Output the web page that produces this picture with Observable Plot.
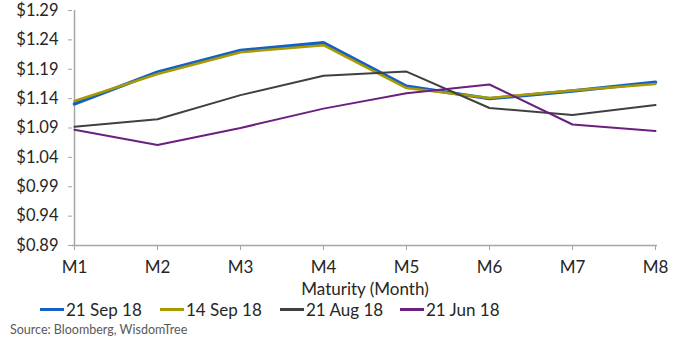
<!DOCTYPE html>
<html>
<head>
<meta charset="utf-8">
<script src="https://cdn.jsdelivr.net/npm/d3@7"></script>
<script src="https://cdn.jsdelivr.net/npm/@observablehq/plot@0.6"></script>
<style>
  html, body { margin: 0; padding: 0; background: #fff; }
  body { width: 689px; height: 340px; overflow: hidden; font-family: Lato, "Open Sans", sans-serif; color: #262626; }
  #chart svg { display: block; overflow: visible; }
  .legend { position: absolute; top: 298px; left: 0; height: 22px; width: 689px; font-size: 17px; }
  .legend .item { position: absolute; top: 0; display: flex; align-items: center; height: 22px; }
  .legend .swatch { width: 24px; height: 3px; margin-right: 2px; }
  .source { position: absolute; top: 322px; left: 10px; font-size: 12.5px; color: #595959; }
</style>
</head>
<body>
<div id="chart"></div>
<div class="legend" id="legend"></div>
<div class="source">Source: Bloomberg, WisdomTree</div>
<script>
const maturities = ["M1", "M2", "M3", "M4", "M5", "M6", "M7", "M8"];
const seriesNames = ["21 Sep 18", "14 Sep 18", "21 Aug 18", "21 Jun 18"];
const sep21 = [1.131, 1.185, 1.222, 1.235, 1.161, 1.140, 1.153, 1.168];
const sep14 = [1.136, 1.182, 1.219, 1.231, 1.158, 1.141, 1.154, 1.165];
const aug21 = [1.092, 1.105, 1.146, 1.179, 1.186, 1.124, 1.112, 1.129];
const jun21 = [1.087, 1.061, 1.090, 1.123, 1.149, 1.164, 1.096, 1.085];
const yTicks = [0.89, 0.94, 0.99, 1.04, 1.09, 1.14, 1.19, 1.24, 1.29];
const colors = ["#1560c4", "#a99a00", "#404040", "#6b1f7f"];
const widths = [3.5, 2.5, 2, 2];

const allValues = [sep21, sep14, aug21, jun21];
const data = [];
seriesNames.forEach((s, i) => {
  maturities.forEach((m, j) => data.push({series: s, maturity: m, value: allValues[i][j]}));
});

const plot = Plot.plot({
  width: 689,
  height: 298,
  marginLeft: 72,
  marginRight: 32,
  marginTop: 10,
  marginBottom: 53,
  style: {fontFamily: "Lato, 'Open Sans', sans-serif", fontSize: "17px", color: "#262626", background: "#fff", overflow: "visible"},
  x: {type: "point", domain: maturities, padding: 0, label: null},
  y: {domain: [0.89, 1.29], label: null},
  marks: [
    Plot.axisY({ticks: yTicks, tickFormat: d => "$" + d.toFixed(2), tickSize: 4, tickPadding: 10, stroke: "#a6a6a6", fontSize: 16.5, color: "#262626"}),
    Plot.axisX({tickSize: 5, tickPadding: 10, stroke: "#a6a6a6", fontSize: 17, color: "#262626"}),
    Plot.ruleX([maturities[0]], {stroke: "#a6a6a6", strokeWidth: 1.5}),
    Plot.ruleY([0.89], {stroke: "#a6a6a6", strokeWidth: 1.5}),
    ...seriesNames.map((s, i) => Plot.line(data.filter(d => d.series === s), {
      x: "maturity", y: "value", stroke: colors[i], strokeWidth: widths[i], strokeLinejoin: "round"
    })),
    Plot.text(["Maturity (Month)"], {frameAnchor: "bottom", dy: 49, fontSize: 17, fill: "#262626"})
  ]
});
document.getElementById("chart").append(plot);

const legend = document.getElementById("legend");
seriesNames.forEach((s, i) => {
  const item = document.createElement("div");
  item.className = "item";
  item.style.left = (40 + i * 120) + "px";
  const sw = document.createElement("span");
  sw.className = "swatch";
  sw.style.background = colors[i];
  const t = document.createElement("span");
  t.textContent = s;
  item.append(sw, t);
  legend.append(item);
});
</script>
</body>
</html>
